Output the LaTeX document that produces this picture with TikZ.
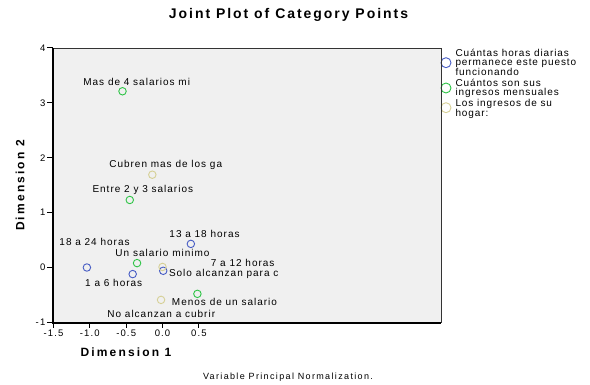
\documentclass[tikz,border=0pt]{standalone}
\usepackage{fontspec}
\setmainfont{Liberation Sans}

\definecolor{hrsblue}{RGB}{70,92,196}
\definecolor{ingreen}{RGB}{46,196,70}
\definecolor{hogkhaki}{RGB}{214,208,150}
\definecolor{plotbg}{RGB}{240,240,240}

\begin{document}
\begin{tikzpicture}[x=1pt,y=1pt,
  catpt/.style={circle,draw=#1,line width=0.9pt,inner sep=0pt,minimum size=7.5pt},
  legpt/.style={circle,draw=#1,line width=0.9pt,inner sep=0pt,minimum size=10pt},
  catlbl/.style={inner sep=0pt,font=\fontsize{10}{12}\selectfont\addfontfeature{LetterSpace=10}},
  legtxt/.style={inner sep=0pt,align=left,anchor=west,font=\fontsize{10}{8.7}\selectfont\addfontfeature{LetterSpace=9}},
  ticklbl/.style={inner sep=0pt,font=\fontsize{9.5}{11}\selectfont\addfontfeature{LetterSpace=12}},
  axttl/.style={inner sep=0pt,font=\fontsize{12}{14}\selectfont\bfseries\addfontfeature{LetterSpace=18}}]
\useasboundingbox (0,0) rectangle (590,384);

%Frame
\fill[plotbg] (53,61.3) rectangle (441,335.7);
\draw[line width=0.8pt,black!80] (53,335.7) -- (441,335.7) -- (441,61.3);
\draw[line width=1.6pt] (53,335.7) -- (53,61.3) -- (441,61.3);

%Axes
\foreach \v in {-1,0,1,2,3,4} {
  \draw[line width=0.8pt] (53,116.5+54.9*\v) -- (47,116.5+54.9*\v);
  \node[ticklbl,anchor=east] at (45.5,116.5+54.9*\v) {\v};
}
\foreach \v/\t in {-1.5/-1.5,-1.0/-1.0,-0.5/-0.5,0.0/0.0,0.5/0.5} {
  \draw[line width=0.8pt] (162.5+72.7*\v,61.3) -- (162.5+72.7*\v,56);
  \node[ticklbl,anchor=north] at (162.5+72.7*\v,54) {\t};
}
\node (d1) at (126,31.3) [axttl] {Dimension 1};
\node (d2) at (20,198.5) [axttl,rotate=90] {Dimension 2};
\node (title) at (288.5,369) [axttl,font=\fontsize{14}{16}\selectfont\bfseries\addfontfeature{LetterSpace=14}] {Joint Plot of Category Points};
\node (note) at (288,7.3) [ticklbl,font=\fontsize{9}{11}\selectfont\addfontfeature{LetterSpace=15}] {Variable Principal Normalization.};

%Points
\begin{scope}[shift={(162.5,116.5)},x=72.7pt,y=54.9pt]
\node (h1824) at (-1.04,0.00) [catpt=hrsblue] {};
\node (h16)   at (-0.41,-0.12) [catpt=hrsblue] {};
\node (h1318) at (0.39,0.43) [catpt=hrsblue] {};
\node (h712)  at (0.01,-0.06) [catpt=hrsblue] {};

\node (imas4)  at (-0.55,3.21) [catpt=ingreen] {};
\node (ientre) at (-0.45,1.23) [catpt=ingreen] {};
\node (iuno)   at (-0.35,0.08) [catpt=ingreen] {};
\node (imenos) at (0.48,-0.48) [catpt=ingreen] {};

\node (gcubren) at (-0.14,1.69) [catpt=hogkhaki] {};
\node (gsolo)   at (0.00,0.01) [catpt=hogkhaki] {};
\node (gno)     at (-0.02,-0.59) [catpt=hogkhaki] {};

\node (lh1824) at (-0.935,0.464) [catlbl] {18 a 24 horas};
\node (lh16)   at (-0.671,-0.282) [catlbl] {1 a 6 horas};
\node (lh1318) at (0.578,0.616) [catlbl] {13 a 18 horas};
\node (lh712)  at (1.103,0.087) [catlbl] {7 a 12 horas};

\node (limas4)  at (-0.355,3.38) [catlbl] {Mas de 4 salarios mi};
\node (lientre) at (-0.271,1.41) [catlbl] {Entre 2 y 3 salarios};
\node (liuno)   at (0.00,0.259) [catlbl] {Un salario minimo};
\node (limenos) at (0.853,-0.634) [catlbl] {Menos de un salario};

\node (lgcubren) at (0.044,1.867) [catlbl] {Cubren mas de los ga};
\node (lgsolo)   at (0.842,-0.124) [catlbl] {Solo alcanzan para c};
\node (lgno)     at (-0.017,-0.847) [catlbl] {No alcanzan a cubrir};
\end{scope}

%Legend
\node (lg1) at (446,321.3) [legpt=hrsblue] {};
\node (lg2) at (446,296) [legpt=ingreen] {};
\node (lg3) at (446,276.3) [legpt=hogkhaki] {};
\draw[line width=0.8pt,black!80] (441,335.7) -- (441,61.3);
\node (lt1) at (455.3,321.3) [legtxt] {Cuántas horas diarias\\permanece este puesto\\funcionando};
\node (lt2) at (455.3,295.5) [legtxt] {Cuántos son sus\\ingresos mensuales};
\node (lt3) at (455.3,274.8) [legtxt] {Los ingresos de su\\hogar:};

\end{tikzpicture}
\end{document}
